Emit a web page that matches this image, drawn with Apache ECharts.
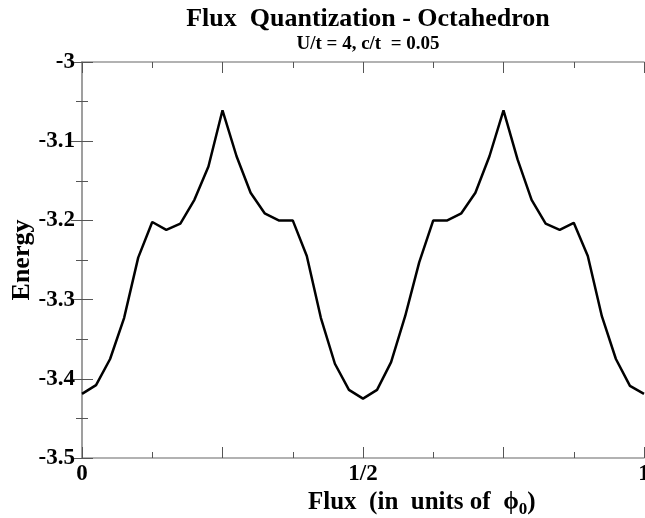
<!DOCTYPE html>
<html>
<head>
<meta charset="utf-8">
<script src="https://cdn.jsdelivr.net/npm/echarts@6/dist/echarts.min.js"></script>
<style>
  html, body { margin: 0; padding: 0; background: #fff; }
  #chart { width: 645px; height: 518px; }
</style>
</head>
<body>
<div id="chart"></div>
<script>
// flux in units of phi0, energy
var flux = [0, 0.025, 0.05, 0.075, 0.1, 0.125, 0.15, 0.175, 0.2, 0.225,
  0.25, 0.275, 0.3, 0.325, 0.35, 0.375, 0.4, 0.425, 0.45, 0.475,
  0.5, 0.525, 0.55, 0.575, 0.6, 0.625, 0.65, 0.675, 0.7, 0.725,
  0.75, 0.775, 0.8, 0.825, 0.85, 0.875, 0.9, 0.925, 0.95, 0.975, 1];
var energy = [-3.419, -3.408, -3.375, -3.323, -3.247, -3.202, -3.212, -3.204, -3.174, -3.132,
  -3.061, -3.119, -3.165, -3.191, -3.200, -3.200, -3.245, -3.323, -3.381, -3.414,
  -3.425, -3.414, -3.379, -3.321, -3.253, -3.200, -3.200, -3.191, -3.165, -3.119,
  -3.061, -3.123, -3.174, -3.204, -3.212, -3.203, -3.245, -3.321, -3.375, -3.409, -3.419];
var xTickLabels = {0: '0', 0.5: '1/2', 1: '1'};

var serif = '"Liberation Serif", "DejaVu Serif", serif';
var axisGrey = '#999999';

var chartDom = document.getElementById('chart');
var myChart = echarts.init(chartDom);

var tickCommon = {
  axisLine: {show: true, lineStyle: {color: axisGrey, width: 1.5}},
  axisTick: {show: true, inside: true, length: 11, lineStyle: {color: '#555', width: 1}},
  minorTick: {show: true, splitNumber: 2, length: 6, lineStyle: {color: '#555', width: 1}},
  splitLine: {show: false},
  minorSplitLine: {show: false}
};

var option = {
  animation: false,
  backgroundColor: '#fff',
  title: [
    {
      text: 'Flux  Quantization - Octahedron',
      left: 363, top: 1, textAlign: 'center',
      textStyle: {fontFamily: serif, fontWeight: 'bold', fontSize: 26, color: '#000'}
    },
    {
      text: 'U/t = 4, c/t  = 0.05',
      left: 363, top: 30, textAlign: 'center',
      textStyle: {fontFamily: serif, fontWeight: 'bold', fontSize: 19, color: '#000'}
    },
    {
      text: 'Flux  (in  units of  ϕ{sub|0})',
      left: 303, top: 483,
      textStyle: {
        fontFamily: serif, fontWeight: 'bold', fontSize: 25, color: '#000',
        rich: {
          sub: {fontFamily: serif, fontSize: 17, color: '#000', padding: [13, 0, 0, 0]}
        }
      }
    }
  ],
  grid: {left: 82, right: 1, top: 62, bottom: 60, containLabel: false, outerBoundsMode: 'none'},
  xAxis: [
    Object.assign({
      type: 'value', min: 0, max: 1, interval: 0.25, position: 'bottom',
      axisLabel: {
        margin: 5, fontFamily: serif, fontWeight: 'bold', fontSize: 23, color: '#000',
        formatter: function (v) { return xTickLabels[v] || ''; }
      }
    }, tickCommon),
    Object.assign({
      type: 'value', min: 0, max: 1, interval: 0.25, position: 'top',
      axisLabel: {show: false}
    }, tickCommon)
  ],
  yAxis: [
    Object.assign({
      type: 'value', min: -3.5, max: -3, interval: 0.1, position: 'left',
      name: 'Energy', nameLocation: 'middle', nameGap: 47, nameRotate: 90,
      nameMoveOverlap: false,
      nameTextStyle: {fontFamily: serif, fontWeight: 'bold', fontSize: 26, color: '#000'},
      axisLabel: {
        margin: 7, fontFamily: serif, fontWeight: 'bold', fontSize: 23, color: '#000',
        formatter: function (v) { return String(Math.round(v * 10) / 10); }
      }
    }, tickCommon),
    Object.assign({
      type: 'value', min: -3.5, max: -3, interval: 0.1, position: 'right',
      axisLabel: {show: false}
    }, tickCommon)
  ],
  series: [
    {
      type: 'line',
      xAxisIndex: 0, yAxisIndex: 0,
      data: flux.map(function (f, i) { return [f, energy[i]]; }),
      showSymbol: false,
      symbol: 'none',
      lineStyle: {color: '#000', width: 2.5},
      clip: false
    }
  ]
};

option && myChart.setOption(option);
</script>
</body>
</html>
